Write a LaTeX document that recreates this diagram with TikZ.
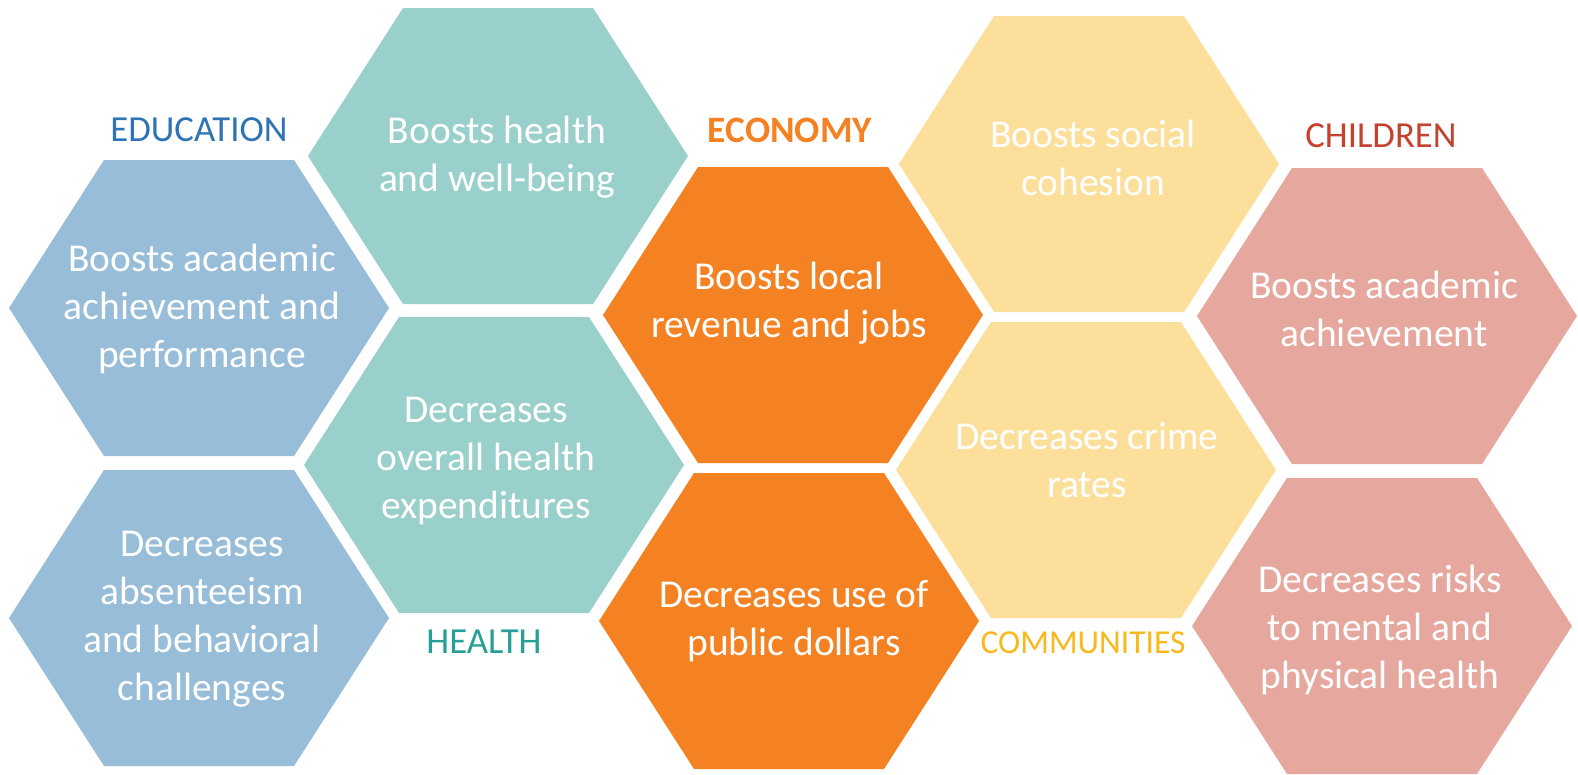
\documentclass[tikz,border=0pt]{standalone}
\usepackage{fontspec}
\setmainfont{Carlito}
\definecolor{eduFill}{RGB}{151,189,216}
\definecolor{heaFill}{RGB}{154,208,203}
\definecolor{ecoFill}{RGB}{245,130,34}
\definecolor{comFill}{RGB}{252,223,154}
\definecolor{chiFill}{RGB}{230,168,158}
\definecolor{eduText}{RGB}{46,116,181}
\definecolor{heaText}{RGB}{38,160,150}
\definecolor{ecoText}{RGB}{245,130,34}
\definecolor{comText}{RGB}{249,185,28}
\definecolor{chiText}{RGB}{197,66,45}
\tikzset{
  hextext/.style={text=white, align=center, font=\fontsize{39.5}{48}\selectfont, inner sep=0pt},
  grouplabel/.style={font=\fontsize{36.7}{40}\selectfont, inner sep=0pt}
}
% #1,#2 hexagon centre; #3 fill; #4 name; #5,#6 text centre (mid of cap top and last baseline); #7 text
\newcommand\hexcell[7]{%
  \fill[#3, shift={(#1,#2)}] (-190,0) -- (-95,-148) -- (95,-148) -- (190,0) -- (95,148) -- (-95,148) -- cycle;
  \node[hextext] (#4) at (#5,#6) {\rule{0pt}{40.4pt}#7\rule[-15pt]{0pt}{1pt}};
}
\begin{document}
\begin{tikzpicture}[x=1pt,y=-1pt]
\useasboundingbox (0,0) rectangle (1578,774);
\fill[white] (0,0) rectangle (1578,774);
% Education
\hexcell{199}{308}{eduFill}{e1}{202}{307}{Boosts academic\\achievement and\\performance}
\hexcell{199}{618}{eduFill}{e2}{202}{616}{Decreases\\absenteeism\\and behavioral\\challenges}
% Health
\hexcell{498}{156}{heaFill}{h1}{497}{155}{Boosts health\\and well-being}
\hexcell{494}{465}{heaFill}{h2}{486}{458}{Decreases\\overall health\\expenditures}
% Economy
\hexcell{793}{315}{ecoFill}{o1}{789}{301}{Boosts local\\revenue and jobs}
\hexcell{789}{621}{ecoFill}{o2}{794}{619}{Decreases use of\\public dollars}
% Communities
\hexcell{1089}{164}{comFill}{y1}{1093}{159}{Boosts social\\cohesion}
\hexcell{1086}{470}{comFill}{y2}{1087}{461}{Decreases crime\\rates}
% Children
\hexcell{1387}{316}{chiFill}{p1}{1384}{310}{Boosts academic\\achievement}
\hexcell{1382}{626}{chiFill}{p2}{1380}{628}{Decreases risks\\to mental and\\physical health}
% Labels
\node[grouplabel, text=eduText] (lEdu) at (199,130) {EDUCATION};
\node[grouplabel, text=heaText] (lHea) at (484,642) {HEALTH};
\node[grouplabel, text=ecoText, font=\fontsize{37.3}{40}\selectfont\bfseries] (lEco) at (790,130) {ECONOMY};
\node[grouplabel, text=comText, font=\fontsize{33.5}{40}\selectfont] (lCom) at (1083,643) {COMMUNITIES};
\node[grouplabel, text=chiText] (lChi) at (1381,136) {CHILDREN};
\end{tikzpicture}
\end{document}
